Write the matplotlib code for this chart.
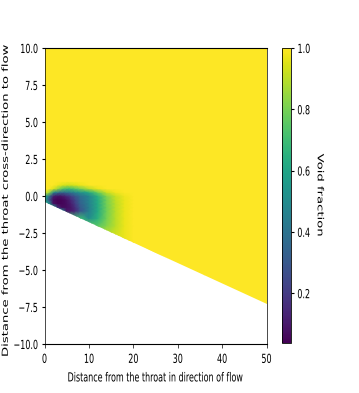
import numpy as np
import matplotlib
matplotlib.use("Agg")
import matplotlib.pyplot as plt
from matplotlib.patches import Polygon
from matplotlib.patheffects import AbstractPathEffect
from matplotlib.transforms import Affine2D, Bbox

# void fraction (rows = y_nodes, cols = x_nodes)
x_nodes = [0, 1, 2, 3, 4, 5, 6, 7, 8, 10, 12, 14, 16, 18, 20]
y_nodes = [-3.0, -2.0, -1.5, -1.0, -0.75, -0.5, -0.25, 0.0, 0.25, 0.5, 0.75, 1.0]
void = [
    [0.95, 0.95, 0.95, 0.95, 0.95, 0.95, 0.95, 0.95, 0.95, 0.95, 0.95, 0.95, 0.95, 0.97, 1.0],
    [0.75, 0.75, 0.75, 0.75, 0.75, 0.75, 0.75, 0.75, 0.75, 0.75, 0.75, 0.82, 0.90, 0.97, 1.0],
    [0.70, 0.70, 0.70, 0.70, 0.70, 0.70, 0.70, 0.70, 0.70, 0.50, 0.65, 0.80, 0.90, 0.97, 1.0],
    [0.60, 0.60, 0.60, 0.60, 0.50, 0.10, 0.10, 0.15, 0.28, 0.45, 0.62, 0.79, 0.90, 0.97, 1.0],
    [0.60, 0.60, 0.60, 0.15, 0.06, 0.07, 0.10, 0.18, 0.30, 0.45, 0.62, 0.79, 0.90, 0.97, 1.0],
    [0.60, 0.55, 0.08, 0.04, 0.05, 0.07, 0.12, 0.22, 0.33, 0.46, 0.62, 0.80, 0.90, 0.97, 1.0],
    [0.62, 0.30, 0.06, 0.04, 0.05, 0.08, 0.15, 0.25, 0.35, 0.47, 0.63, 0.80, 0.91, 0.97, 1.0],
    [0.62, 0.42, 0.12, 0.08, 0.10, 0.15, 0.22, 0.30, 0.38, 0.48, 0.65, 0.82, 0.92, 0.98, 1.0],
    [0.97, 0.85, 0.50, 0.38, 0.35, 0.38, 0.42, 0.48, 0.52, 0.62, 0.78, 0.92, 0.98, 1.0, 1.0],
    [1.0, 1.0, 0.95, 0.85, 0.75, 0.70, 0.70, 0.75, 0.80, 0.90, 0.97, 1.0, 1.0, 1.0, 1.0],
    [1.0, 1.0, 1.0, 0.98, 0.95, 0.93, 0.93, 0.95, 0.97, 1.0, 1.0, 1.0, 1.0, 1.0, 1.0],
    [1.0, 1.0, 1.0, 1.0, 1.0, 1.0, 1.0, 1.0, 1.0, 1.0, 1.0, 1.0, 1.0, 1.0, 1.0],
]
# lower wall of the diffuser
wall_x = [0, 50]
wall_y = [-0.39, -7.3]

vmin, vmax = 0.036, 1.0
cbar_ticks = [0.2, 0.4, 0.6, 0.8, 1.0]
x_ticks = [0, 10, 20, 30, 40, 50]
y_ticks = [-10.0, -7.5, -5.0, -2.5, 0.0, 2.5, 5.0, 7.5, 10.0]

SX = 0.64  # the picture is squashed sideways


class Squeeze(AbstractPathEffect):
    def __init__(self, sx, anchor="center"):
        super().__init__()
        self.sx = sx
        self.anchor = anchor

    def draw_path(self, renderer, gc, tpath, affine, rgbFace=None):
        ext = tpath.get_extents(affine)
        if self.anchor == "right":
            cx = ext.x1
        elif self.anchor == "left":
            cx = ext.x0
        else:
            cx = 0.5 * (ext.x0 + ext.x1)
        t = affine + Affine2D().translate(-cx, 0).scale(self.sx, 1).translate(cx, 0)
        renderer.draw_path(gc, tpath, t, rgbFace)


def squeeze_text(t, anchor):
    t.set_path_effects([Squeeze(SX, anchor)])
    orig = t.get_window_extent

    def ext(renderer=None, dpi=None):
        bb = orig(renderer, dpi)
        if bb.width == 0:
            return bb
        if anchor == "right":
            cx = bb.x1
        elif anchor == "left":
            cx = bb.x0
        else:
            cx = 0.5 * (bb.x0 + bb.x1)
        return Bbox.from_extents(cx + (bb.x0 - cx) * SX, bb.y0,
                                 cx + (bb.x1 - cx) * SX, bb.y1)
    t.get_window_extent = ext


fig = plt.figure(figsize=(3.59, 3.93), dpi=100)
ax = fig.add_axes([0.124, 0.1247, 0.6184, 0.7532])
cax = fig.add_axes([0.7855, 0.126, 0.0237, 0.752])

# pad the table with pure vapour out to the plot edges
xs = np.array(x_nodes + [50], dtype=float)
ys = np.array([-8.0] + y_nodes + [10.0])
zz = np.pad(np.array(void), ((1, 1), (0, 1)), constant_values=1.0)

mesh = ax.pcolormesh(xs, ys, zz, shading="gouraud", cmap="viridis",
                     vmin=vmin, vmax=vmax)
dom = Polygon([(wall_x[0], 10), (wall_x[1], 10), (wall_x[1], wall_y[1]),
               (wall_x[0], wall_y[0])], closed=True, transform=ax.transData,
              facecolor="none", edgecolor="none")
ax.add_patch(dom)
mesh.set_clip_path(dom)

ax.set_xlim(0, 50)
ax.set_ylim(-10, 10)
ax.set_xticks(x_ticks)
ax.set_yticks(y_ticks)
ax.tick_params(axis="x", labelsize=9, length=3.2, width=0.5, pad=3.2)
ax.tick_params(axis="y", labelsize=9, length=2.2, width=0.8, pad=2.2)
for s in ["left", "right"]:
    ax.spines[s].set_linewidth(0.5)
ax.set_xlabel("Distance from the throat in direction of flow", fontsize=9)
ax.set_ylabel("Distance from the throat cross-direction to flow", fontsize=9.5)
ax.yaxis.set_label_coords(-0.152, 0.49)

cb = fig.colorbar(mesh, cax=cax, ticks=cbar_ticks)
cb.outline.set_linewidth(0.6)
cax.tick_params(labelsize=9, length=2.2, width=0.8, pad=2.5)
cb.set_label("Void fraction", rotation=270, fontsize=9.5, va="bottom")
cax.yaxis.set_label_coords(3.85, 0.5)

fig.canvas.draw()
for t in ax.get_xticklabels():
    squeeze_text(t, "center")
for t in ax.get_yticklabels():
    squeeze_text(t, "right")
for t in cax.get_yticklabels():
    squeeze_text(t, "left")
squeeze_text(ax.xaxis.label, "center")
squeeze_text(ax.yaxis.label, "right")
squeeze_text(cax.yaxis.label, "left")

fig.savefig("out.png", dpi=100)
